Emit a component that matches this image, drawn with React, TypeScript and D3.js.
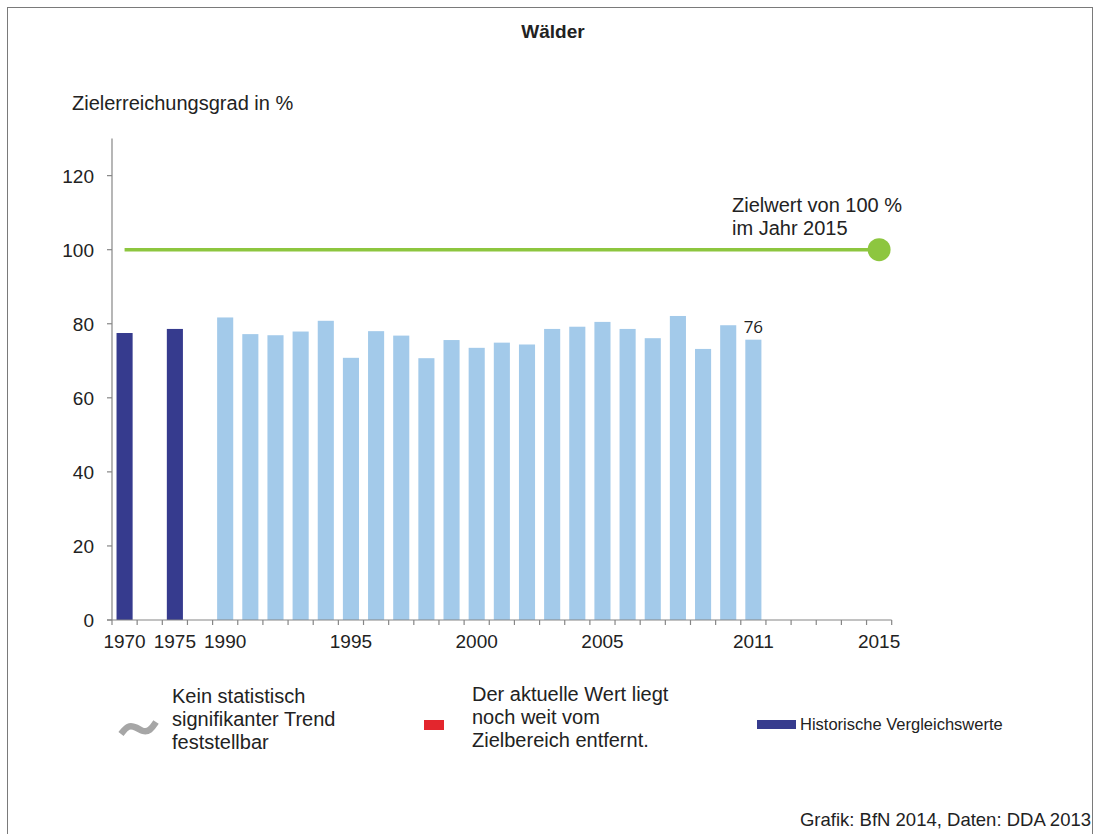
import React from "react";
import * as d3 from "d3";

const histYears = ["1970", "1975"];
const histValues = [77.5, 78.6];
const years = ["1990","1991","1992","1993","1994","1995","1996","1997","1998","1999","2000","2001","2002","2003","2004","2005","2006","2007","2008","2009","2010","2011"];
const values = [81.7,77.2,76.9,77.9,80.8,70.8,78.0,76.8,70.7,75.6,73.5,74.9,74.4,78.6,79.2,80.5,78.6,76.1,82.1,73.2,79.6,75.7];
const slots = ["1970","g1","1975","g2",...years,"2012","2013","2014","g3","2015"];
const tickLabels = ["1970","1975","1990","1995","2000","2005","2011","2015"];
const yTicks = [0,20,40,60,80,100,120];
const targetValue = 100;
const targetFrom = "1970";
const targetTo = "2015";
const lastLabel = "76";

const FONT = "'Liberation Sans', Arial, sans-serif";
const DARK = "#363B8E";
const LIGHT = "#A3CAEA";
const GREEN = "#8DC63F";
const TEXT = "#222";

export default function App() {
  const x = d3.scaleBand<string>().domain(slots).range([112, 891.7]).paddingInner(0.36).paddingOuter(0.18);
  const y = d3.scaleLinear().domain([0, 130]).range([620, 138.6]);
  const step = x.step();
  const off = (step - x.bandwidth()) / 2;
  const cx = (s: string) => (x(s) as number) + x.bandwidth() / 2;
  const boundaries = slots.map((s) => (x(s) as number) - off).concat([(x(slots[slots.length - 1]) as number) - off + step]);
  const tilde = d3.line().curve(d3.curveBasis)([[121, 734], [128, 725], [136, 727], [143, 732], [150, 731], [156, 722]]) as string;

  return (
    <svg width={1094} height={834} style={{ position: "absolute", left: 0, top: 0, background: "#fff" }} fontFamily={FONT}>
      <rect x={7.5} y={7.5} width={1085} height={840} fill="none" stroke="#7a7a7a" strokeWidth={1} />
      <text x={553} y={38} textAnchor="middle" fontSize={19} fontWeight="bold" fill={TEXT}>Wälder</text>
      <text x={72} y={110} fontSize={20} fill={TEXT}>Zielerreichungsgrad in %</text>

      {/* bars */}
      {histYears.map((yr, i) => (
        <rect key={yr} x={x(yr)} y={y(histValues[i])} width={x.bandwidth()} height={y(0) - y(histValues[i])} fill={DARK} />
      ))}
      {years.map((yr, i) => (
        <rect key={yr} x={x(yr)} y={y(values[i])} width={x.bandwidth()} height={y(0) - y(values[i])} fill={LIGHT} />
      ))}
      <text x={cx(years[years.length - 1])} y={y(values[values.length - 1]) - 6.5} textAnchor="middle" fontSize={17} fontFamily="'Open Sans', sans-serif" fill={TEXT}>{lastLabel}</text>

      {/* target */}
      <line x1={cx(targetFrom)} x2={cx(targetTo)} y1={y(targetValue)} y2={y(targetValue)} stroke={GREEN} strokeWidth={3.5} />
      <circle cx={cx(targetTo)} cy={y(targetValue)} r={11.5} fill={GREEN} />
      <text x={732} y={212} fontSize={20} fill={TEXT}>Zielwert von 100 %</text>
      <text x={732} y={235} fontSize={20} fill={TEXT}>im Jahr 2015</text>

      {/* axes */}
      <line x1={112} x2={112} y1={138.6} y2={620} stroke="#868686" strokeWidth={1.2} />
      {yTicks.map((t) => (
        <g key={t}>
          <line x1={107} x2={112} y1={y(t)} y2={y(t)} stroke="#868686" strokeWidth={1.2} />
          <text x={94} y={y(t) + 7} textAnchor="end" fontSize={19} fill={TEXT}>{t}</text>
        </g>
      ))}
      <line x1={107} x2={boundaries[boundaries.length - 1]} y1={620} y2={620} stroke="#868686" strokeWidth={1.2} />
      {boundaries.map((b, i) => (
        <line key={i} x1={b} x2={b} y1={620} y2={625} stroke="#868686" strokeWidth={1.2} />
      ))}
      {tickLabels.map((t) => (
        <text key={t} x={cx(t)} y={648} textAnchor="middle" fontSize={19} fill={TEXT}>{t}</text>
      ))}

      {/* legend */}
      <path d={tilde} fill="none" stroke="#A6A6A6" strokeWidth={6.5} strokeLinecap="butt" />
      <text fontSize={20} fill={TEXT}>
        <tspan x={172} y={703}>Kein statistisch</tspan>
        <tspan x={172} y={726}>signifikanter Trend</tspan>
        <tspan x={172} y={749}>feststellbar</tspan>
      </text>
      <rect x={424} y={720} width={20} height={10} fill="#E3262D" />
      <text fontSize={20} fill={TEXT}>
        <tspan x={472} y={701}>Der aktuelle Wert liegt</tspan>
        <tspan x={472} y={724}>noch weit vom</tspan>
        <tspan x={472} y={747}>Zielbereich entfernt.</tspan>
      </text>
      <rect x={757} y={720} width={39} height={9} fill={DARK} />
      <text x={800} y={730} fontSize={16.5} fill={TEXT}>Historische Vergleichswerte</text>
      <text x={1091} y={826} textAnchor="end" fontSize={18.5} fill={TEXT}>Grafik: BfN 2014, Daten: DDA 2013</text>
    </svg>
  );
}
